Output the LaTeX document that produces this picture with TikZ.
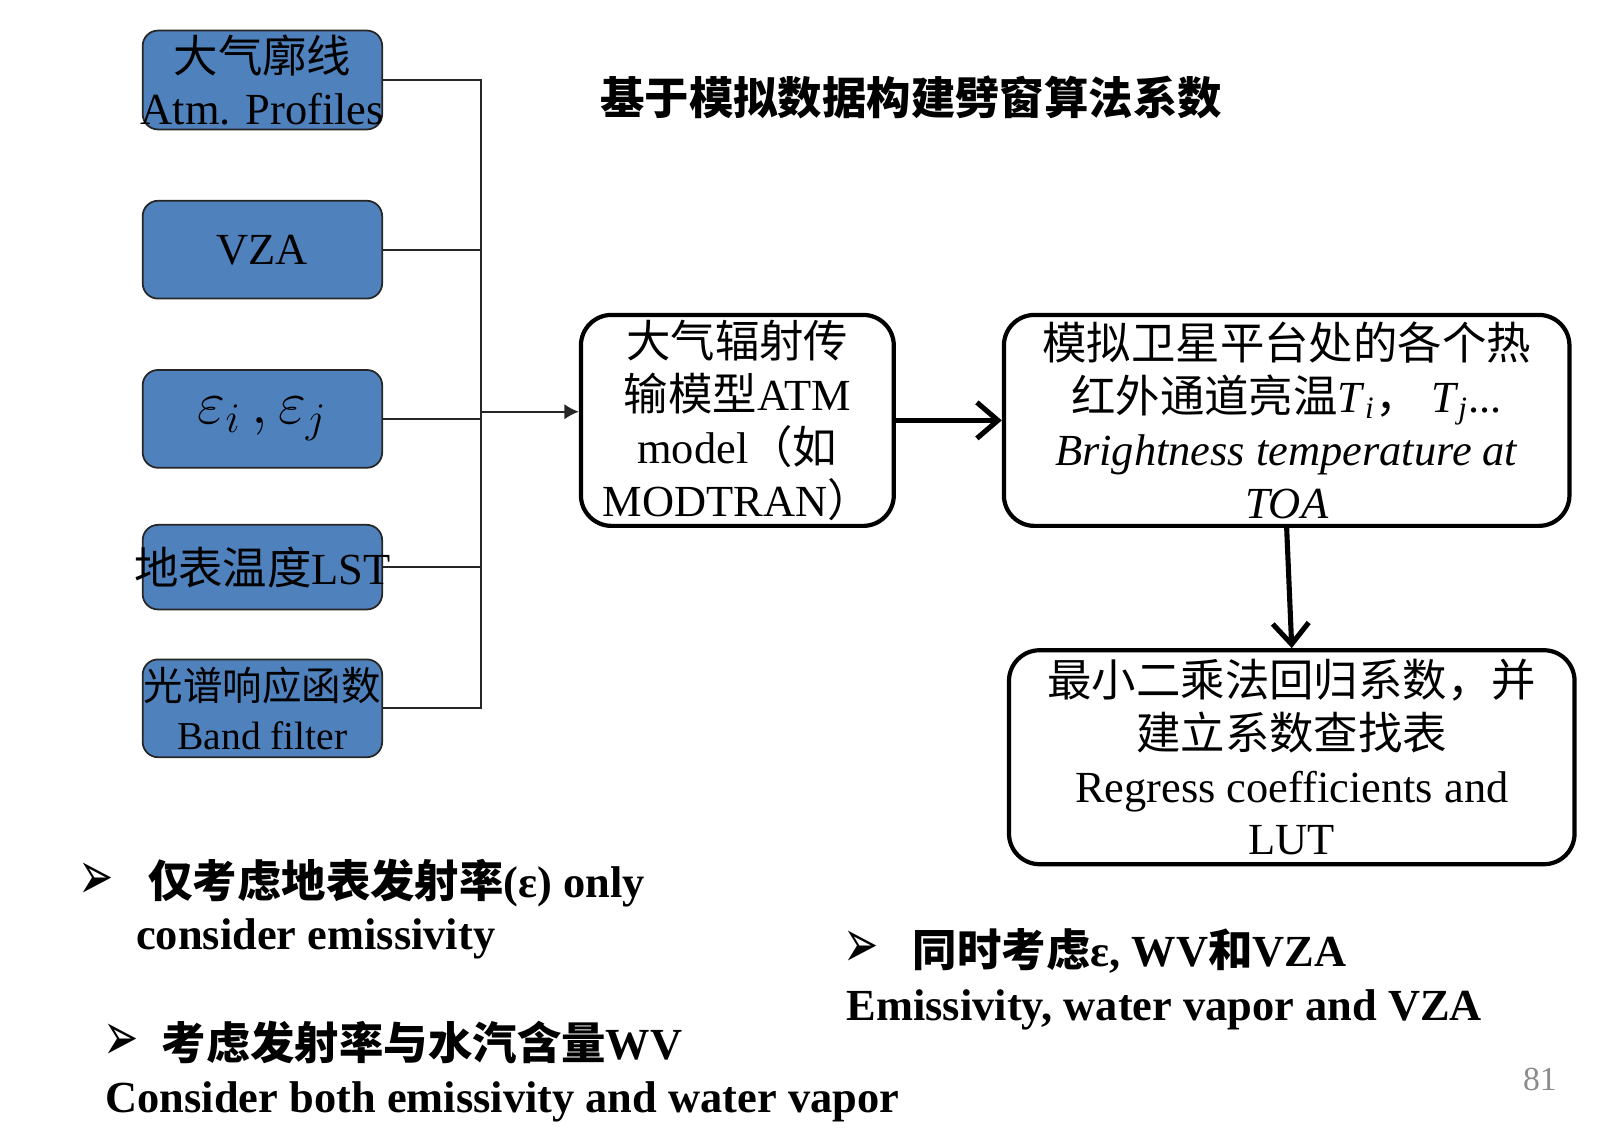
\documentclass[tikz,border=0pt]{standalone}
\usepackage{fontspec}
\setmainfont{Liberation Serif}
\newfontfamily\cjk{Noto Sans CJK SC}
\newfontfamily\dingfont{DejaVu Sans}
\usepackage{xcolor}
\usepackage{graphicx}
\usetikzlibrary{arrows.meta}
\definecolor{boxblue}{HTML}{4F81BD}
\definecolor{pagegray}{HTML}{8C8C8C}

\tikzset{
  txt/.style={font=\fontsize{12.64}{15.03}\selectfont, inner sep=0pt},
  inbox/.style={txt, draw=black!85, fill=boxblue, rounded corners=0.153cm, line width=0.5pt, minimum width=2.395cm, align=center},
  stepbox/.style={txt, draw=black, rounded corners=0.306cm, line width=1.2pt, align=center},
  feed/.style={draw=black!85, line width=0.55pt},
  bigarrow/.style={line width=1.45pt, -{Straight Barb[length=2.1mm, width=3.6mm, line width=1.45pt]}},
  bul/.style={font=\dingfont\fontsize{15}{15}\selectfont, inner sep=0pt},
  btxt/.style={txt, font=\fontsize{12.64}{15.03}\selectfont\bfseries, anchor=base west}
}

\begin{document}
\begin{tikzpicture}[x=0.010191cm, y=-0.010191cm]
\useasboundingbox (0,0) rectangle (1568,1107);

% input boxes
{
\node[inbox, minimum height=0.989cm] (prof) at (257.5,78.5) {\makebox[0pt]{\cjk 大气廓线}\\ \makebox[0pt]{Atm. Profiles}};
\node[inbox, minimum height=0.978cm] (vza) at (257.5,245) {VZA};
\node[inbox, minimum height=0.978cm] (emis) at (257.5,411) {\fontsize{17}{18}\selectfont $\varepsilon_{i}\,,\varepsilon_{j}$};
\node[inbox, minimum height=0.846cm] (lst) at (257.5,556.5) {\makebox[0pt]{{\cjk 地表温度}LST}};
\node[inbox, minimum height=0.978cm, font=\fontsize{11.25}{13.9}\selectfont] (band) at (257.5,695) {\makebox[0pt]{\cjk 光谱响应函数}\\ \makebox[0pt]{Band filter}};
}

% process boxes
{
\node[stepbox, minimum width=3.129cm, minimum height=2.110cm] (atm) at (723.5,412.5)
{{\cjk 大气辐射传}\\ {\cjk 输模型}ATM\\ model{\cjk （如}\\ MODTRAN{\cjk ）}};
\node[stepbox, minimum width=5.656cm, minimum height=2.110cm] (bt) at (1262.5,412.5)
{{\cjk 模拟卫星平台处的各个热}\\
{\cjk 红外通道亮温}\textit{T}\textsubscript{\textit{i}}{\cjk ，} \textit{T}\textsubscript{\textit{j}}...\\
\textit{Brightness temperature at}\\ \textit{TOA}};
\node[stepbox, minimum width=5.656cm, minimum height=2.140cm] (lut) at (1267.5,743)
{{\cjk 最小二乘法回归系数，并}\\ {\cjk 建立系数查找表}\\ Regress coefficients and\\ LUT};
}

% lines
\coordinate (bus) at (472,404);
\draw[feed] (prof.east) -| (bus) |- (band.east);
\draw[feed] (vza.east) -- (vza.east -| bus);
\draw[feed] (emis.east) -- (emis.east -| bus);
\draw[feed] (lst.east) -- (lst.east -| bus);
\draw[feed, -{Latex[length=1.45mm, width=1.55mm]}] (bus) -- (bus -| atm.west);

\draw[bigarrow] (atm.east) -- (bt.west);
\draw[bigarrow] (bt.south) -- (lut.north);

% title
\node[txt, font=\fontsize{12.64}{15.03}\selectfont\bfseries] (title) at (894,96) {\cjk 基于模拟数据构建劈窗算法系数};

% notes
{
\node[bul] (m1) at (94,865) {\scalebox{0.8}[1.3]{➢}};
\node[btxt] (n1) at (145,881) {{\cjk 仅考虑地表发射率}(ε) only};
\node[btxt] (n1b) at (133,932) {consider emissivity};

\node[bul] (m2) at (119,1023) {\scalebox{0.8}[1.3]{➢}};
\node[btxt] (n2) at (158,1040) {{\cjk 考虑发射率与水汽含量}WV};
\node[btxt] (n2b) at (103,1092) {Consider both emissivity and water vapor};

\node[bul] (m3) at (845,931) {\scalebox{0.8}[1.3]{➢}};
\node[btxt] (n3) at (895,948) {{\cjk 同时考虑}ε, WV{\cjk 和}VZA};
\node[btxt] (n3b) at (830,1001) {Emissivity, water vapor and VZA};
}

\node[txt, font=\fontsize{9.58}{11}\selectfont, text=pagegray, anchor=base] (page) at (1511,1070) {81};

\end{tikzpicture}
\end{document}
